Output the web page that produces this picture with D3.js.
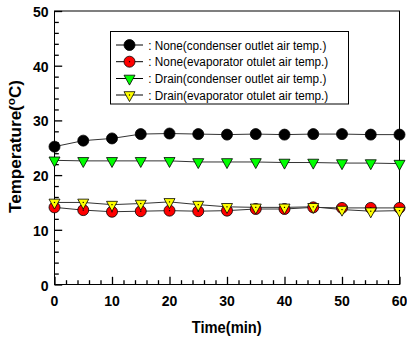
<!DOCTYPE html>
<html>
<head>
<meta charset="UTF-8">
<script src="https://d3js.org/d3.v7.min.js"></script>
<style>
  body { margin: 0; background: #fff; font-family: 'Liberation Sans', Arial, sans-serif; }
</style>
</head>
<body>
<div id="chart"></div>
<script>
const times = [0, 5, 10, 15, 20, 25, 30, 35, 40, 45, 50, 55, 60];
const noneCond = [25.2, 26.3, 26.7, 27.5, 27.6, 27.5, 27.4, 27.5, 27.4, 27.5, 27.5, 27.4, 27.4];
const noneEvap = [14.1, 13.6, 13.3, 13.4, 13.5, 13.4, 13.5, 13.8, 13.8, 14.1, 14.0, 14.0, 14.0];
const drainCond = [22.7, 22.6, 22.6, 22.6, 22.6, 22.4, 22.4, 22.4, 22.3, 22.3, 22.2, 22.2, 22.1];
const drainEvap = [15.0, 15.0, 14.6, 14.8, 15.1, 14.6, 14.2, 14.1, 14.1, 14.2, 13.7, 13.4, 13.5];
const labels = [
  ": None(condenser outlet air temp.)",
  ": None(evaporator otulet air temp.)",
  ": Drain(condenser outlet air temp.)",
  ": Drain(evaporator otulet air temp.)"
];
const xTicks = [0, 10, 20, 30, 40, 50, 60];
const yTicks = [0, 10, 20, 30, 40, 50];

const series = [
  { values: noneCond, shape: "circle", fill: "#000000" },
  { values: noneEvap, shape: "circle", fill: "#ff0000", dot: true },
  { values: drainCond, shape: "tri", fill: "#00ff00" },
  { values: drainEvap, shape: "tri", fill: "#ffff00", dot: true }
];

const W = 407, H = 341;
const m = { left: 54.5, right: 7.5, top: 11, bottom: 56.5 };

const svg = d3.select("#chart").append("svg")
  .attr("width", W).attr("height", H);

const x = d3.scaleLinear().domain([0, 60]).range([m.left, W - m.right]);
const y = d3.scaleLinear().domain([0, 50]).range([H - m.bottom, m.top]);

// frame
svg.append("rect")
  .attr("x", x(0)).attr("y", y(50))
  .attr("width", x(60) - x(0)).attr("height", y(0) - y(50))
  .attr("fill", "none").attr("stroke", "#000").attr("stroke-width", 1);

// inward ticks
const xAxis = svg.append("g").attr("transform", `translate(0,${y(0)})`);
xAxis.call(d3.axisBottom(x).tickValues(d3.range(0, 61, 2)).tickSize(-4.3).tickFormat(""));
xAxis.selectAll(".tick line").filter(d => d % 10 === 0).attr("y2", -7.7);
xAxis.select(".domain").remove();
xAxis.selectAll(".tick line").attr("stroke-width", 1.3);

const yAxis = svg.append("g").attr("transform", `translate(${x(0)},0)`);
yAxis.call(d3.axisLeft(y).tickValues(d3.range(0, 51, 2)).tickSize(-4.3).tickFormat(""));
yAxis.selectAll(".tick line").filter(d => d % 10 === 0).attr("x2", 7.7);
yAxis.select(".domain").remove();
yAxis.selectAll(".tick line").attr("stroke-width", 1.3);

// tick labels
svg.append("g").selectAll("text").data(xTicks).join("text")
  .attr("x", d => x(d)).attr("y", y(0) + 21)
  .attr("text-anchor", "middle")
  .style("font-size", "14px").style("font-weight", "bold")
  .text(d => d);

svg.append("g").selectAll("text").data(yTicks).join("text")
  .attr("x", x(0) - 6).attr("y", d => y(d) + 6)
  .attr("text-anchor", "end")
  .style("font-size", "14px").style("font-weight", "bold")
  .text(d => d);

// axis titles
svg.append("text")
  .attr("x", 191.7).attr("y", 333.3)
  .attr("textLength", 70).attr("lengthAdjust", "spacingAndGlyphs")
  .style("font-size", "16px").style("font-weight", "bold")
  .text("Time(min)");

const yt = svg.append("text")
  .attr("transform", `translate(21,213) rotate(-90)`)
  .attr("textLength", 133).attr("lengthAdjust", "spacingAndGlyphs")
  .style("font-size", "16px").style("font-weight", "bold");
yt.append("tspan").text("Temperature(");
yt.append("tspan").attr("dy", -6).style("font-size", "11px").text("o");
yt.append("tspan").attr("dy", 6).text("C)");

function marker(g, shape, fill, dot) {
  if (shape === "circle") {
    g.append("circle").attr("r", 5.5).attr("fill", fill).attr("stroke", "#000").attr("stroke-width", 0.8);
  } else {
    g.append("path").attr("d", "M-5.5,-3.3L5.5,-3.3L0,6.6Z")
      .attr("fill", fill).attr("stroke", "#000").attr("stroke-width", 0.8);
  }
  if (dot) g.append("rect").attr("x", -0.6).attr("y", -0.6).attr("width", 1.2).attr("height", 1.2).attr("fill", "#000");
}

const line = d3.line().x((d, i) => x(times[i])).y(d => y(d));

series.forEach(s => {
  svg.append("path").datum(s.values)
    .attr("d", line).attr("fill", "none")
    .attr("stroke", "#333").attr("stroke-width", 1);
});
series.forEach(s => {
  s.values.forEach((v, i) => {
    const g = svg.append("g").attr("transform", `translate(${x(times[i])},${y(v)})`);
    marker(g, s.shape, s.fill, s.dot);
  });
});

// legend
const lg = svg.append("g");
lg.append("rect").attr("x", 110.5).attr("y", 31.5).attr("width", 238).attr("height", 72.5)
  .attr("fill", "#fff").attr("stroke", "#000").attr("stroke-width", 1);
const ly = [45, 61.7, 78.5, 95];
const lw = [178, 180, 178, 180];
series.forEach((s, i) => {
  lg.append("line").attr("x1", 116).attr("x2", 143).attr("y1", ly[i]).attr("y2", ly[i])
    .attr("stroke", "#000").attr("stroke-width", 1);
  marker(lg.append("g").attr("transform", `translate(129.5,${ly[i]})`), s.shape, s.fill, s.dot);
  lg.append("text").attr("x", 148.3).attr("y", ly[i] + 4.5)
    .attr("textLength", lw[i]).attr("lengthAdjust", "spacingAndGlyphs")
    .style("font-size", "12.5px").text(labels[i]);
});
</script>
</body>
</html>
